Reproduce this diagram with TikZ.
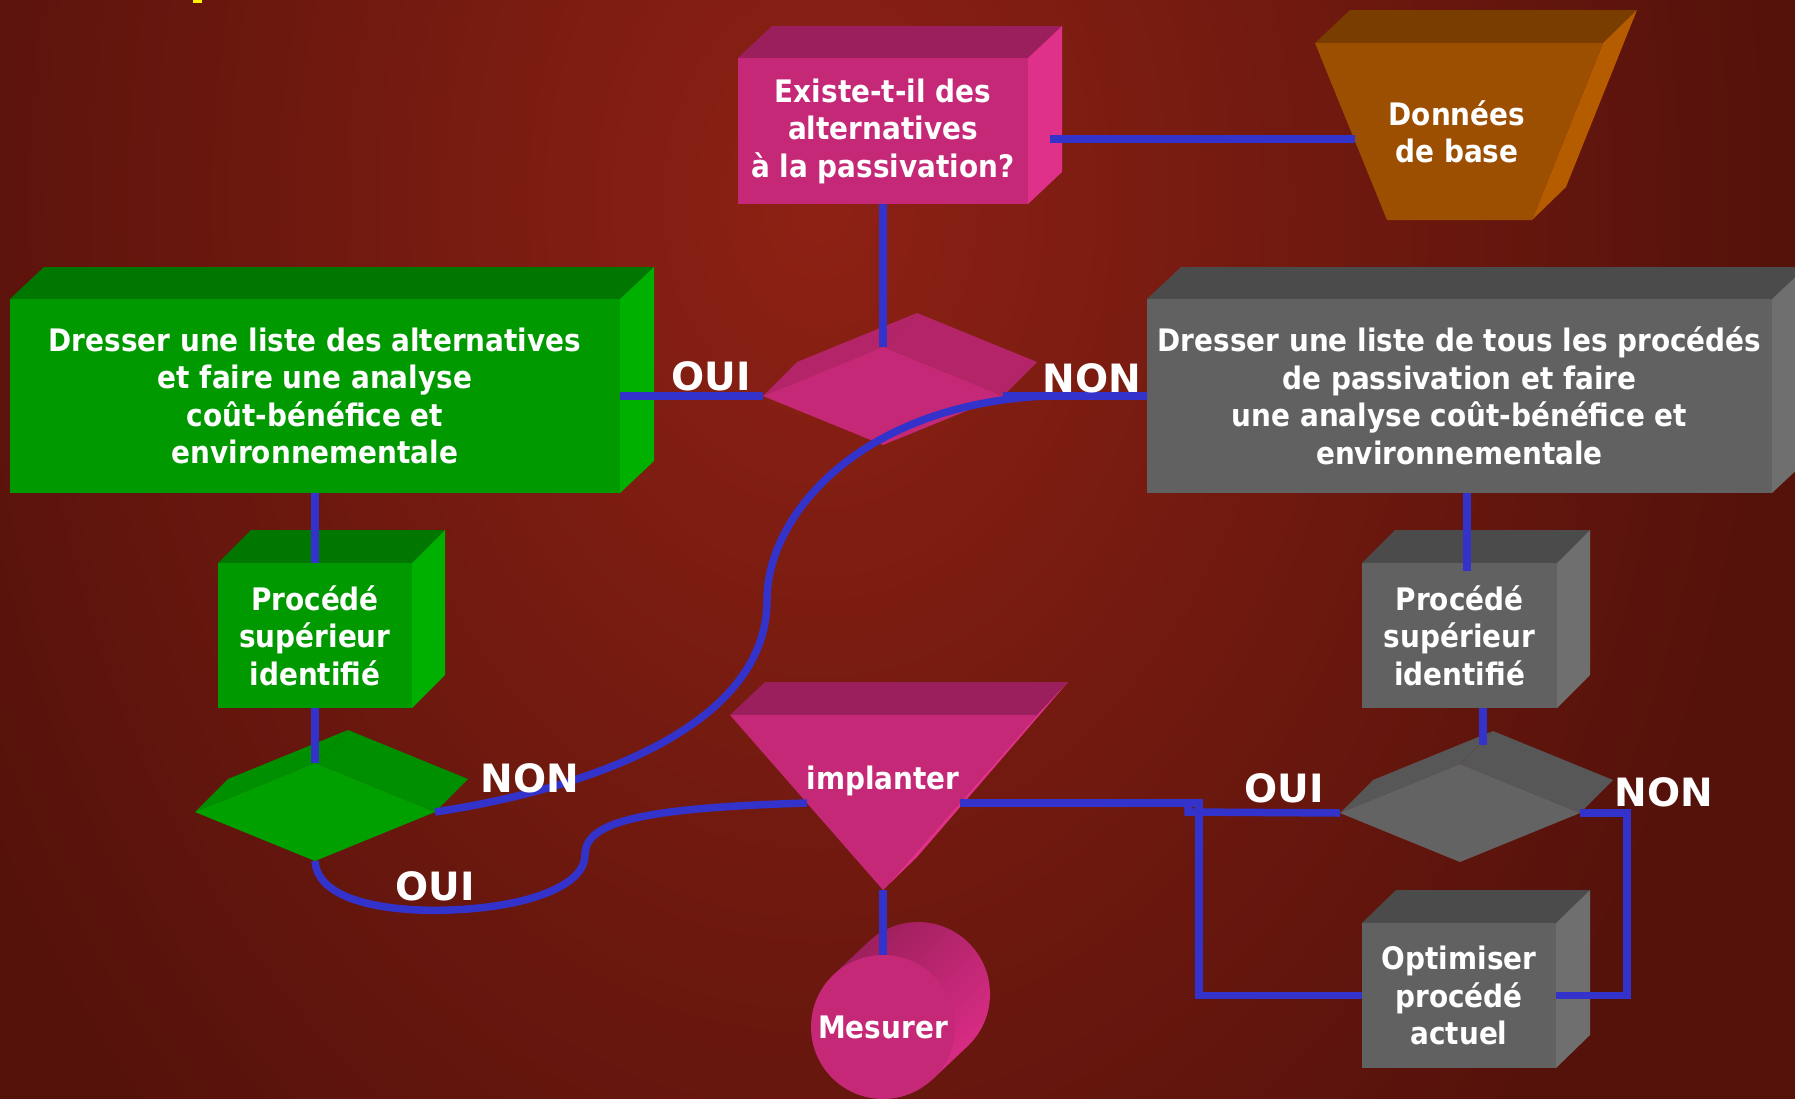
\documentclass[tikz,border=0pt]{standalone}
\usepackage{fontspec}
\setmainfont{DejaVu Sans}[FakeStretch=0.9]
\newfontfamily\lblfont{DejaVu Sans}
\usetikzlibrary{shapes.geometric,calc}
\pgfdeclarelayer{faces}
\pgfsetlayers{faces,main}
\definecolor{pkF}{HTML}{C42877}
\definecolor{pkT}{HTML}{9A1F5C}
\definecolor{pkR}{HTML}{E0318A}
\definecolor{pkS}{HTML}{B32469}
\definecolor{gnF}{HTML}{009900}
\definecolor{gnT}{HTML}{007700}
\definecolor{gnR}{HTML}{00B000}
\definecolor{gnD}{HTML}{00A000}
\definecolor{gnDS}{HTML}{008F00}
\definecolor{gyF}{HTML}{616161}
\definecolor{gyT}{HTML}{4B4B4B}
\definecolor{gyR}{HTML}{6F6F6F}
\definecolor{gyD}{HTML}{636363}
\definecolor{gyDS}{HTML}{575757}
\definecolor{orF}{HTML}{9C4F00}
\definecolor{orT}{HTML}{7A3D00}
\definecolor{orR}{HTML}{B55C00}
\definecolor{cylD}{HTML}{9C1F5C}
\definecolor{cylL}{HTML}{DA2C85}
\definecolor{wirec}{HTML}{3333CC}
\definecolor{bgdark}{HTML}{55120B}
\definecolor{bglight}{HTML}{8E2114}
\tikzset{
  wire/.style={line width=7.5pt, draw=wirec},
  front/.style={inner sep=0pt, outer sep=0pt, text=white, align=center,
    font=\bfseries\fontsize{31}{37.5}\selectfont},
  lbl/.style={text=white, font=\lblfont\bfseries\fontsize{39}{45}\selectfont,
    anchor=base, inner sep=0pt},
  dia/.style={diamond, minimum width=240pt, minimum height=98pt, inner sep=0pt, outer sep=0pt},
}
\newcommand\cubefaces[4]{%
  \fill[#2] (#1.north west) -- ++(#4) -- ($(#1.north east)+(#4)$) -- (#1.north east) -- cycle;
  \fill[#3] (#1.north east) -- ++(#4) -- ($(#1.south east)+(#4)$) -- (#1.south east) -- cycle;}
\newcommand\diafaces[3]{%
  \fill[#2] (#1.west) -- (#1.north) -- ($(#1.north)+(#3)$) -- ($(#1.west)+(#3)$) -- cycle;
  \fill[#2] (#1.north) -- (#1.east) -- ($(#1.east)+(#3)$) -- ($(#1.north)+(#3)$) -- cycle;}
\begin{document}
\begin{tikzpicture}[x=1pt,y=-1pt]
\useasboundingbox (0,0) rectangle (1795,1098);
\begin{pgfonlayer}{faces}
\fill[bgdark] (-10,-10) rectangle (1805,1110);
\shade[inner color=bglight, outer color=bgdark] (820,200) ellipse [x radius=950, y radius=1300];
\fill[yellow] (193,-2) rectangle (202,3);
\end{pgfonlayer}

% front faces
\node[front, fill=pkF, minimum width=290pt, minimum height=146pt] (q1) at (883,131)
  {Existe-t-il des\\alternatives\\à la passivation?};
\fill[orF] (1315,43) -- (1603,43) -- (1532,220) -- (1387,220) -- cycle;
\node[front] (don) at (1457,132) {Données\\de base};
\node[front, fill=gnF, minimum width=610pt, minimum height=194pt] (g1) at (315,396)
  {Dresser une liste des alternatives\\et faire une analyse\\coût-bénéfice et\\environnementale};
\node[front, fill=gyF, minimum width=625pt, minimum height=194pt] (r1) at (1459.5,396)
  {Dresser une liste de tous les procédés\\de passivation et faire\\une analyse coût-bénéfice et\\environnementale};
\node[front, fill=gnF, minimum width=194pt, minimum height=145pt] (g2) at (315,635.5)
  {Procédé\\supérieur\\identifié};
\node[front, fill=gyF, minimum width=195pt, minimum height=145pt] (r2) at (1459.5,635.5)
  {Procédé\\supérieur\\identifié};
\node[front, fill=gyF, minimum width=194pt, minimum height=145pt] (opt) at (1459,995.5)
  {Optimiser\\procédé\\actuel};
\node[dia, fill=pkF] (d1) at (883,396) {};
\node[dia, fill=gnD] (d2) at (315,812) {};
\node[dia, fill=gyD] (d3) at (1460,813) {};
\fill[pkF] (730,715) -- (1037,715) -- (883,890) -- cycle;
\node[front, anchor=base] (imp) at (883,789) {implanter};
\node[front, circle, fill=pkF, minimum size=144pt] (mes) at (883,1027) {Mesurer};

% depth faces
\begin{pgfonlayer}{faces}
\cubefaces{q1}{pkT}{pkR}{34,-32}
\fill[orT] (1315,43) -- (1350,10) -- (1637,10) -- (1603,43) -- cycle;
\fill[orR] (1603,43) -- (1637,10) -- (1566,187) -- (1532,220) -- cycle;
\cubefaces{g1}{gnT}{gnR}{34,-32}
\cubefaces{r1}{gyT}{gyR}{34,-32}
\cubefaces{g2}{gnT}{gnR}{33,-33}
\cubefaces{r2}{gyT}{gyR}{33,-33}
\cubefaces{opt}{gyT}{gyR}{34,-33}
\diafaces{d1}{pkS}{34,-34}
\diafaces{d2}{gnDS}{33,-33}
\diafaces{d3}{gyDS}{33,-33}
\fill[pkT] (730,715) -- (765,682) -- (1068,682) -- (1037,715) -- cycle;
\fill[pkR] (1037,715) -- (1068,682) -- (917,857) -- (883,890) -- cycle;
\shade[top color=cylD, bottom color=cylL, shading angle=45]
  (918,994) circle[radius=72]
  (833.6,974.6) -- (868.6,941.6) -- (967.4,1046.4) -- (932.4,1079.4) -- cycle;
\end{pgfonlayer}

% connectors
\coordinate (q1r) at (1050,139);
\coordinate (donl) at (1355,139);
\coordinate (r2in) at (1467,571);
\coordinate (d3in) at (1483,745);
\coordinate (impL) at (807,803);
\coordinate (impR) at (960,803);
\coordinate (impB) at (883,890);
\coordinate (jA) at (1199,803);
\coordinate (jC) at (1188,812);
\coordinate (jB) at (1627,813);
\draw[wire] (q1.south) -- (d1.north);
\draw[wire] (q1r) -- (donl);
\draw[wire] (g1.east) -- (d1.west);
\draw[wire] (d1.east) -- (r1.west);
\draw[wire] (g1.south) -- (g2.north);
\draw[wire] (g2.south) -- (d2.north);
\draw[wire] (r2in |- r1.south) -- (r2in);
\draw[wire] (d3in |- r2.south) -- (d3in);
\draw[wire] (d2.east) .. controls (580,790) and (767,730) .. (767,600)
  .. controls (767,515) and (860,405) .. (1045,396) -- (r1.west);
\draw[wire] (d2.south) .. controls (318,905) and (400,912) .. (450,910)
  .. controls (530,907) and (585,885) .. (585,855)
  .. controls (585,822) and (640,808) .. (impL);
\draw[wire] (impR) -- (jA) -- (jA |- opt.west) -- (opt.west);
\draw[wire] (d3.west) -- (jC) -- (jC |- jA);
\draw[wire] (d3.east) -- (jB) -- (jB |- opt.east) -- (opt.east);
\draw[wire] (impB) -- (mes.north);

% labels
\node[lbl] (l1) at (711,390) {OUI};
\node[lbl] (l2) at (1092,392) {NON};
\node[lbl] (l3) at (530,792) {NON};
\node[lbl] (l4) at (435,900) {OUI};
\node[lbl] (l5) at (1284,802) {OUI};
\node[lbl] (l6) at (1664,806) {NON};
\end{tikzpicture}
\end{document}
